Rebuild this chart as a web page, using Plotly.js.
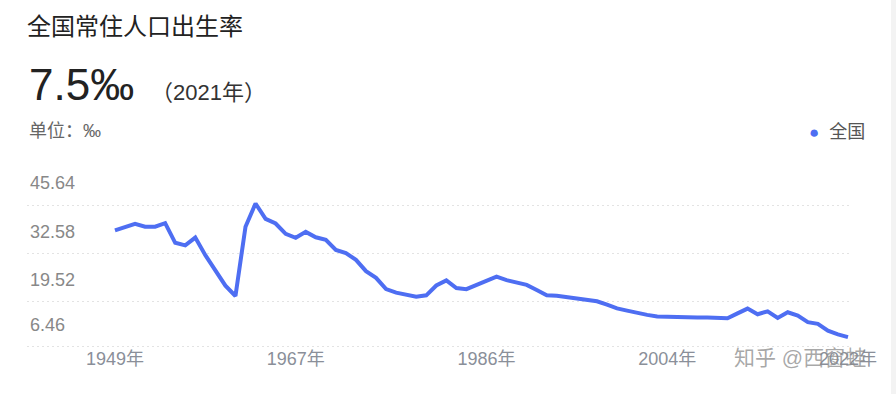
<!DOCTYPE html>
<html>
<head>
<meta charset="utf-8">
<script src="https://cdn.plot.ly/plotly-3.0.1.min.js"></script>
<style>
  html, body { margin: 0; padding: 0; background: #f3f3f3; }
  #chart { width: 891px; height: 394px; background: #fff; }
</style>
</head>
<body>
<div id="chart"></div>
<script>
// ---- data ----
const years = [1949,1950,1951,1952,1953,1954,1955,1956,1957,1958,1959,1960,1961,1962,1963,1964,1965,1966,1967,1968,1969,1970,1971,1972,1973,1974,1975,1976,1977,1978,1979,1980,1981,1982,1983,1984,1985,1986,1987,1988,1989,1990,1991,1992,1993,1994,1995,1996,1997,1998,1999,2000,2001,2002,2003,2004,2005,2006,2007,2008,2009,2010,2011,2012,2013,2014,2015,2016,2017,2018,2019,2020,2021,2022];
const birthRate = [36.00,37.00,37.80,37.00,37.00,37.97,32.60,31.90,34.03,29.22,24.78,20.86,18.02,37.01,43.37,39.14,37.88,35.05,33.96,35.59,34.11,33.43,30.65,29.77,27.93,24.82,23.01,19.91,18.93,18.25,17.82,18.21,20.91,22.28,20.19,19.90,21.04,22.43,23.33,22.37,21.58,21.06,19.68,18.24,18.09,17.70,17.12,16.98,16.57,15.64,14.64,14.03,13.38,12.86,12.41,12.29,12.40,12.09,12.10,12.14,11.95,11.90,13.27,14.57,13.03,13.83,11.99,13.57,12.64,10.86,10.41,8.52,7.52,6.77];
const xTickYears = [1949, 1967, 1986, 2004, 2022];
const xTickText = ['1949年', '1967年', '1986年', '2004年', '2022年'];
const yTickLabels = ['45.64', '32.58', '19.52', '6.46'];
const yGridVals = [42.95, 29.72, 16.51, 4.10];
const seriesName = '全国';
const titleText = '全国常住人口出生率';
const headlineValue = '7.5‰';
const headlineYear = '（2021年）';
const unitText = '单位：‰';

// ---- layout geometry ----
const W = 891, H = 394;
const M = {l: 27, r: W - 852, t: 160, b: 44};
const plotW = W - M.l - M.r, plotH = H - M.t - M.b;
const px = x => (x - M.l) / plotW;
const py = y => (H - M.b - y) / plotH;

const FONT = '"Liberation Sans", Arial, "Noto Sans CJK SC", sans-serif';
const BLUE = '#4e6ef2';

const trace = {
  type: 'scatter', mode: 'lines',
  x: years, y: birthRate, name: seriesName,
  line: {color: BLUE, width: 4, shape: 'linear'},
  hoverinfo: 'skip', showlegend: false
};

const layout = {
  width: W, height: H,
  margin: M,
  paper_bgcolor: '#fff', plot_bgcolor: '#fff',
  font: {family: FONT, color: '#888', size: 18},
  showlegend: false,
  title: {
    text: titleText, x: 27 / W, xref: 'container', xanchor: 'left',
    y: 1 - 27 / H, yref: 'container', yanchor: 'middle',
    font: {family: FONT, size: 24, color: '#222'}
  },
  xaxis: {
    range: [1940.24, 2022.40], fixedrange: true,
    tickvals: xTickYears, ticktext: xTickText,
    showgrid: false, zeroline: false, showline: false, ticks: '',
    ticklabelstandoff: -4,
    tickfont: {size: 18, color: '#8a8f99'}
  },
  yaxis: {
    range: [3.23, 55.28], fixedrange: true,
    tickvals: yGridVals, ticktext: yTickLabels,
    ticklabelposition: 'inside', ticklabelshift: -22,
    showgrid: true, gridcolor: '#e3e3e3', griddash: '2px,3px', gridwidth: 1,
    zeroline: false, showline: false, ticks: '',
    tickfont: {size: 18, color: '#888'}
  },
  annotations: [
    {text: headlineValue, xref: 'paper', yref: 'paper', x: px(27), y: py(84),
     xanchor: 'left', yanchor: 'middle', showarrow: false,
     font: {family: FONT, size: 44, color: '#222'}},
    {text: headlineYear, xref: 'paper', yref: 'paper', x: px(149), y: py(92),
     xanchor: 'left', yanchor: 'middle', showarrow: false,
     font: {family: FONT, size: 22, color: '#333'}},
    {text: unitText, xref: 'paper', yref: 'paper', x: px(27), y: py(131),
     xanchor: 'left', yanchor: 'middle', showarrow: false,
     font: {family: FONT, size: 18, color: '#666'}},
    {text: '<span style="color:' + BLUE + ';font-size:17px">●</span>  ' + seriesName,
     xref: 'paper', yref: 'paper', x: px(867), y: py(132),
     xanchor: 'right', yanchor: 'middle', showarrow: false,
     font: {family: FONT, size: 18, color: '#555'}},
    {text: '知乎 @西窗蛙', xref: 'paper', yref: 'paper', x: px(868), y: py(357),
     xanchor: 'right', yanchor: 'middle', showarrow: false,
     font: {family: FONT, size: 21, color: 'rgba(140,140,140,0.75)'}}
  ]
};

Plotly.newPlot('chart', [trace], layout, {displayModeBar: false, staticPlot: true});
</script>
</body>
</html>
